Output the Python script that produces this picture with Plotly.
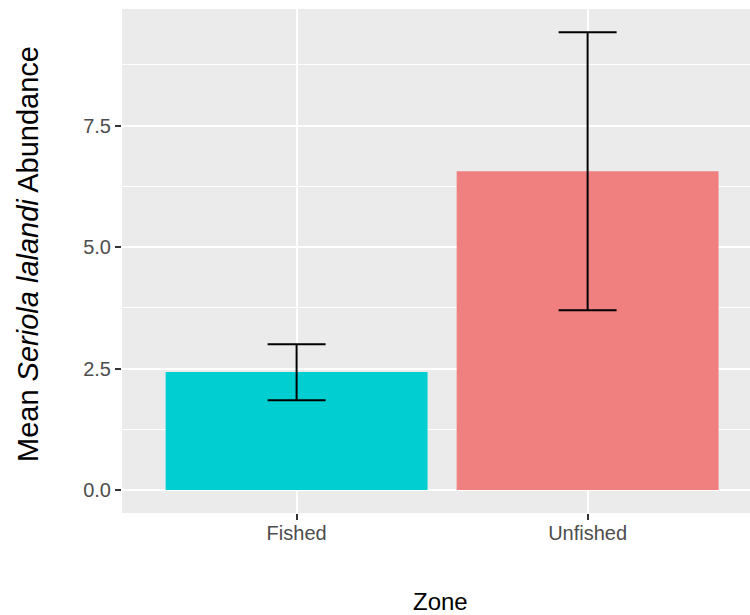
import plotly.graph_objects as go

zones = ["Fished", "Unfished"]
means = [2.43, 6.56]
err_upper = [3.00, 9.42]
err_lower = [1.85, 3.70]
colors = ["#00CED1", "#F08080"]
yticks = [0.0, 2.5, 5.0, 7.5]
ytick_labels = ["0.0", "2.5", "5.0", "7.5"]

plus = [u - m for u, m in zip(err_upper, means)]
minus = [m - l for m, l in zip(means, err_lower)]

fig = go.Figure()
fig.add_trace(go.Bar(
    x=zones, y=means, width=0.9,
    marker=dict(color=colors, line=dict(width=0)),
    error_y=dict(type="data", symmetric=False, array=plus, arrayminus=minus,
                 color="black", thickness=2, width=29),
    showlegend=False,
))

font = "Liberation Sans, Arial, sans-serif"
fig.update_layout(
    width=750, height=615,
    margin=dict(l=122, r=0, t=9, b=102),
    paper_bgcolor="white", plot_bgcolor="#EBEBEB",
    font=dict(family=font),
    xaxis=dict(range=[-0.6, 1.558], showgrid=True, gridcolor="white", gridwidth=2,
               ticks="outside", ticklen=6, tickwidth=2, tickcolor="#333333",
               ticklabelstandoff=-4,
               tickfont=dict(size=20, color="#4D4D4D"), zeroline=False, showline=False),
    yaxis=dict(range=[-0.473, 9.9], tickvals=yticks, ticktext=ytick_labels,
               showgrid=True, gridcolor="white", gridwidth=2,
               minor=dict(dtick=1.25, tick0=0, showgrid=True, gridcolor="white", gridwidth=1, ticks=""),
               ticks="outside", ticklen=6, tickwidth=2, tickcolor="#333333",
               tickfont=dict(size=20, color="#4D4D4D"), zeroline=False, showline=False),
    bargap=0.1,
)

fig.add_annotation(text="Mean <i>Seriola lalandi</i> Abundance", textangle=-90,
                   xref="paper", yref="paper", x=0, y=0.5, xanchor="center", yanchor="middle",
                   xshift=-94, yshift=7, showarrow=False, font=dict(size=29, color="black", family=font))
fig.add_annotation(text="Zone", xref="paper", yref="paper", x=0.5, y=0, xanchor="center", yanchor="middle",
                   xshift=4, yshift=-88, showarrow=False, font=dict(size=24, color="black", family=font))

fig.write_html("out.html")
